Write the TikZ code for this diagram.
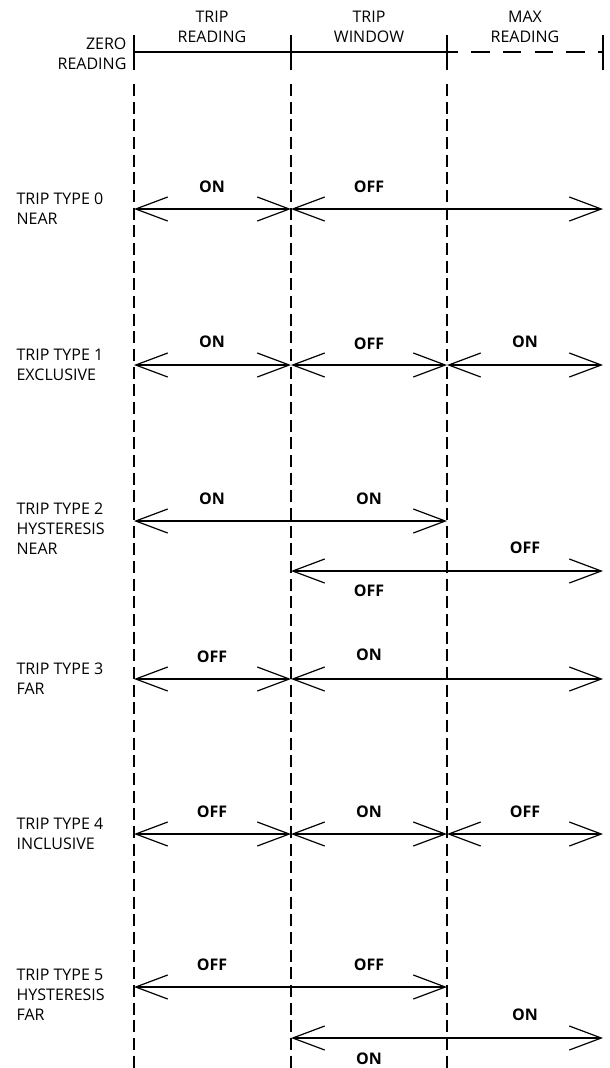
\documentclass[tikz,border=0pt]{standalone}
\usepackage{fontspec}
\setmainfont{Open Sans}
\usetikzlibrary{arrows.meta}
\begin{document}
\begin{tikzpicture}[x=0.75pt,y=-0.75pt,line width=0.9pt,>={Straight Barb[length=24pt,width=18pt]},
lab/.style={anchor=base,inner sep=0pt,font=\fontsize{12}{15}\selectfont\bfseries},
typ/.style={anchor=north west,align=left,inner sep=0pt,font=\fontsize{12}{15}\selectfont},
hd/.style={anchor=north,align=center,inner sep=0pt,font=\fontsize{12}{15}\selectfont},
guide/.style={line width=0.8pt,dash pattern=on 9pt off 4.25pt}]
\useasboundingbox (0,0) rectangle (610,1068);
% scale along the top
\foreach \x/\n in {134/z,291/t,447/w,603/m}{\draw (\x,35) -- (\x,70); \coordinate (\n) at (\x,52);};
\draw (z) -- (t) -- (w);
\draw[dash pattern=on 13.75pt off 10pt,dash phase=5.5pt] (w) -- (m);
\foreach \x in {134,291,447}{\draw[guide] (\x,84) -- (\x,1068);};
\node[hd,anchor=north east,align=right] (hz) at (127,37) {ZERO\\READING};
\node[hd] (htr) at (212,10) {TRIP\\READING};
\node[hd] (htw) at (369,10) {TRIP\\WINDOW};
\node[hd] (hmr) at (525,10) {MAX\\READING};
% points on the guides, one row per trip type
\foreach \i/\y in {0/209,1/365,2/521,3/679,4/834,5/987}{\foreach \x/\n in {134/a,291/b,447/c,603/d}{\coordinate (\n\i) at (\x,\y);};};
\coordinate (b2h) at (291,571); \coordinate (d2h) at (603,571);
\coordinate (b5h) at (291,1038); \coordinate (d5h) at (603,1038);
% type 0
\node[typ] (r0) at (16,192) {TRIP TYPE 0\\NEAR};
\draw[<->] (a0) -- (b0);
\draw[<->] (b0) -- (d0);
\node[lab] (s0a) at (212,192) {ON};
\node[lab] (s0b) at (369,192) {OFF};
% type 1
\node[typ] (r1) at (16,348) {TRIP TYPE 1\\EXCLUSIVE};
\draw[<->] (a1) -- (b1);
\draw[<->] (b1) -- (c1);
\draw[<->] (c1) -- (d1);
\node[lab] (s1a) at (212,347) {ON};
\node[lab] (s1b) at (369,349) {OFF};
\node[lab] (s1c) at (525,347) {ON};
% type 2
\node[typ] (r2) at (16,502) {TRIP TYPE 2\\HYSTERESIS\\NEAR};
\draw[<->] (a2) -- (c2);
\draw[<->] (b2h) -- (d2h);
\node[lab] (s2a) at (212,504) {ON};
\node[lab] (s2b) at (369,504) {ON};
\node[lab] (s2c) at (525,553) {OFF};
\node[lab] (s2d) at (369,596) {OFF};
% type 3
\node[typ] (r3) at (16,662) {TRIP TYPE 3\\FAR};
\draw[<->] (a3) -- (b3);
\draw[<->] (b3) -- (d3);
\node[lab] (s3a) at (212,662) {OFF};
\node[lab] (s3b) at (369,660) {ON};
% type 4
\node[typ] (r4) at (16,817) {TRIP TYPE 4\\INCLUSIVE};
\draw[<->] (a4) -- (b4);
\draw[<->] (b4) -- (c4);
\draw[<->] (c4) -- (d4);
\node[lab] (s4a) at (212,817) {OFF};
\node[lab] (s4b) at (369,817) {ON};
\node[lab] (s4c) at (525,817) {OFF};
% type 5
\node[typ] (r5) at (16,968) {TRIP TYPE 5\\HYSTERESIS\\FAR};
\draw[<->] (a5) -- (c5);
\draw[<->] (b5h) -- (d5h);
\node[lab] (s5a) at (212,970) {OFF};
\node[lab] (s5b) at (369,970) {OFF};
\node[lab] (s5c) at (525,1020) {ON};
\node[lab] (s5d) at (369,1064) {ON};
\end{tikzpicture}
\end{document}
